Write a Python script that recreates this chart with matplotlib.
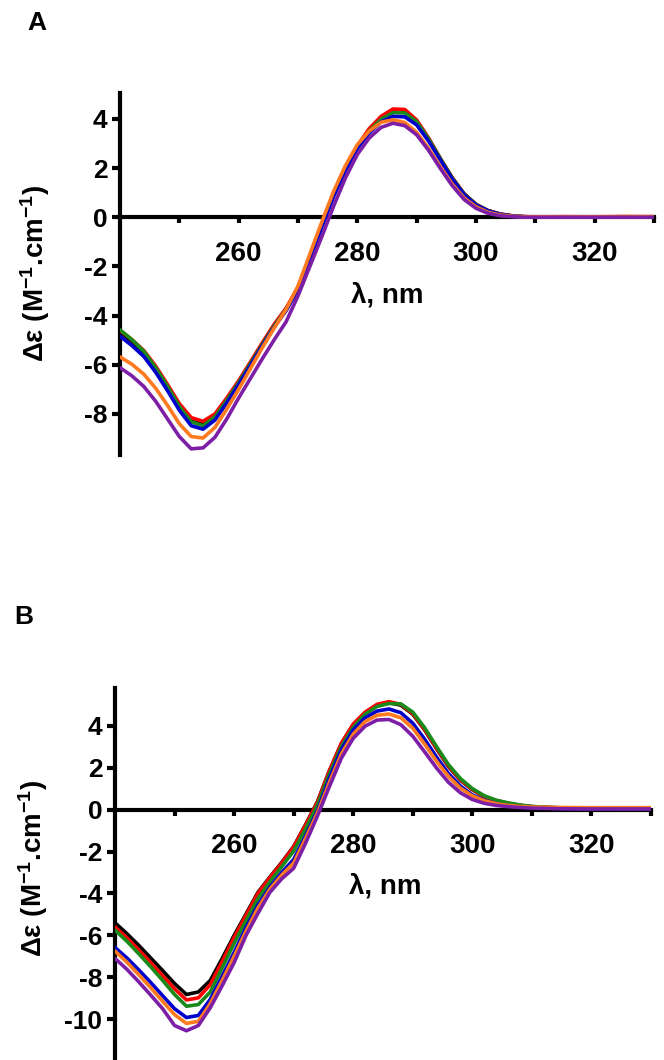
import matplotlib
matplotlib.use('Agg')
import matplotlib.pyplot as plt

plt.rcParams['font.family'] = ['Liberation Sans', 'DejaVu Sans']
plt.rcParams['font.weight'] = 'bold'
plt.rcParams['axes.unicode_minus'] = False
plt.rcParams['mathtext.fontset'] = 'custom'
plt.rcParams['mathtext.rm'] = 'Liberation Sans:bold'
plt.rcParams['mathtext.it'] = 'Liberation Sans:bold'
plt.rcParams['mathtext.bf'] = 'Liberation Sans:bold'

# wavelength grid (nm)
wl = [240, 242, 244, 246, 248, 250, 252,
      254, 256, 258, 260, 262, 264, 266, 268, 270, 272, 274, 276, 278, 280,
      282, 284, 286, 288, 290, 292, 294, 296, 298, 300, 302, 304, 306, 308, 310,
      315, 320, 325, 330]

# panel A
a_black = [-4.66, -5.05, -5.5, -6.15, -6.9, -7.7, -8.3,
           -8.42, -8.08, -7.42, -6.7, -5.93, -5.15, -4.4, -3.72, -2.9, -1.65, -0.35, 0.9, 1.95, 2.85,
           3.55, 4.05, 4.33, 4.3, 3.9, 3.2, 2.38, 1.6, 0.95, 0.52, 0.27, 0.13, 0.06, 0.02, 0.01,
           0, 0, 0, 0]
a_red = [-4.6, -4.98, -5.42, -6.05, -6.8, -7.58, -8.15,
         -8.3, -8.0, -7.35, -6.65, -5.88, -5.1, -4.35, -3.7, -2.85, -1.6, -0.3, 0.95, 2.0, 2.9,
         3.6, 4.1, 4.4, 4.38, 3.95, 3.22, 2.38, 1.6, 0.95, 0.52, 0.27, 0.13, 0.06, 0.02, 0.01,
         0.02, 0.01, 0.02, 0.01]
a_green = [-4.58, -4.98, -5.45, -6.12, -6.88, -7.7, -8.32,
           -8.48, -8.12, -7.45, -6.72, -5.95, -5.17, -4.42, -3.75, -2.92, -1.67, -0.37, 0.88, 1.93, 2.82,
           3.5, 3.98, 4.25, 4.24, 3.88, 3.18, 2.37, 1.58, 0.94, 0.51, 0.26, 0.12, 0.05, 0.02, 0.01,
           0, 0, 0, 0]
a_blue = [-4.84, -5.22, -5.66, -6.3, -7.05, -7.85, -8.48,
          -8.62, -8.25, -7.55, -6.8, -6.02, -5.22, -4.47, -3.8, -2.95, -1.7, -0.4, 0.85, 1.9, 2.8,
          3.42, 3.88, 4.1, 4.08, 3.75, 3.1, 2.32, 1.55, 0.92, 0.5, 0.26, 0.12, 0.05, 0.02, 0.01,
          0, 0, 0, 0]
a_orange = [-5.68, -5.98, -6.38, -6.95, -7.65, -8.4, -8.92,
            -8.98, -8.55, -7.8, -7.0, -6.15, -5.3, -4.5, -3.75, -2.8, -1.5, -0.2, 1.05, 2.1, 2.95,
            3.5, 3.86, 3.96, 3.85, 3.45, 2.8, 2.05, 1.35, 0.78, 0.42, 0.2, 0.09, 0.04, 0.02, 0.02,
            0.02, 0.02, 0.03, 0.03]
a_purple = [-6.12, -6.45, -6.88, -7.48, -8.2, -8.92, -9.42,
            -9.38, -8.95, -8.2, -7.35, -6.55, -5.75, -4.98, -4.25, -3.2, -2.0, -0.8, 0.45, 1.6, 2.55,
            3.22, 3.65, 3.82, 3.72, 3.35, 2.72, 1.98, 1.28, 0.72, 0.36, 0.16, 0.06, 0.02, 0, 0,
            0, 0, 0, 0]

# panel B
b_black = [-5.4, -5.92, -6.48, -7.08, -7.68, -8.3, -8.82,
           -8.7, -8.15, -7.1, -6.0, -4.98, -3.95, -3.22, -2.52, -1.76, -0.72, 0.38, 1.85, 3.15, 4.05,
           4.62, 4.98, 5.1, 4.98, 4.55, 3.8, 2.9, 2.05, 1.4, 0.95, 0.62, 0.42, 0.3, 0.2, 0.14,
           0.07, 0.05, 0.05, 0.05]
b_red = [-5.6, -6.12, -6.7, -7.3, -7.92, -8.55, -9.08,
         -8.98, -8.35, -7.25, -6.1, -5.05, -4.0, -3.25, -2.55, -1.78, -0.75, 0.35, 1.85, 3.15, 4.08,
         4.65, 5.02, 5.15, 5.02, 4.58, 3.82, 2.92, 2.08, 1.42, 0.96, 0.63, 0.43, 0.3, 0.2, 0.14,
         0.07, 0.05, 0.05, 0.05]
b_green = [-5.75, -6.28, -6.88, -7.5, -8.15, -8.82, -9.38,
           -9.3, -8.7, -7.55, -6.38, -5.3, -4.25, -3.45, -2.72, -1.98, -0.92, 0.22, 1.7, 3.0, 3.92,
           4.55, 4.92, 5.06, 5.04, 4.65, 3.9, 3.0, 2.14, 1.48, 1.0, 0.66, 0.45, 0.32, 0.22, 0.15,
           0.08, 0.05, 0.04, 0.04]
b_blue = [-6.58, -7.08, -7.65, -8.25, -8.88, -9.5, -9.92,
          -9.82, -9.05, -7.95, -6.82, -5.62, -4.55, -3.7, -3.0, -2.38, -1.25, -0.05, 1.5, 2.85, 3.8,
          4.38, 4.7, 4.8, 4.62, 4.12, 3.35, 2.5, 1.72, 1.12, 0.7, 0.44, 0.28, 0.19, 0.13, 0.09,
          0.05, 0.04, 0.04, 0.04]
b_orange = [-6.75, -7.28, -7.88, -8.5, -9.15, -9.78, -10.2,
            -10.1, -9.25, -8.15, -7.0, -5.8, -4.7, -3.8, -3.12, -2.55, -1.38, -0.15, 1.3, 2.65, 3.6,
            4.2, 4.5, 4.56, 4.38, 3.88, 3.12, 2.3, 1.58, 1.02, 0.65, 0.42, 0.28, 0.2, 0.15, 0.12,
            0.1, 0.09, 0.09, 0.09]
b_purple = [-7.1, -7.62, -8.22, -8.85, -9.5, -10.3, -10.55,
            -10.3, -9.45, -8.4, -7.3, -6.0, -4.95, -3.95, -3.3, -2.8, -1.6, -0.3, 1.1, 2.45, 3.4,
            3.98, 4.27, 4.3, 4.05, 3.5, 2.75, 1.98, 1.3, 0.8, 0.48, 0.3, 0.2, 0.14, 0.1, 0.07,
            0.04, 0.03, 0.03, 0.03]

colors = ['#000000', '#ff0000', '#1a8a1a', '#0000cc', '#ff7a1f', '#7d1fa6']
xticks = [250, 260, 270, 280, 290, 300, 310, 320, 330]
xticklabels = ['', '260', '', '280', '', '300', '', '320', '']
a_yticks = [-8, -6, -4, -2, 0, 2, 4]
b_yticks = [-10, -8, -6, -4, -2, 0, 2, 4]

W, H = 664, 1060
fig = plt.figure(figsize=(W / 100, H / 100), dpi=100)


def panel(rect, series, yticks, ylim):
    ax = fig.add_axes(rect)
    for y, c in zip(series, colors):
        ax.plot(wl, y, color=c, lw=2.6, zorder=3,
                solid_joinstyle='round', solid_capstyle='round')
    ax.set_xlim(240, 330)
    ax.set_ylim(ylim)
    ax.spines['top'].set_visible(False)
    ax.spines['right'].set_visible(False)
    ax.spines['bottom'].set_position(('data', 0))
    ax.spines['left'].set_linewidth(3)
    ax.spines['bottom'].set_linewidth(3)
    ax.set_xticks(xticks)
    ax.set_xticklabels(xticklabels)
    ax.set_yticks(yticks)
    ax.tick_params(axis='x', direction='out', length=4, width=3, labelsize=20, pad=13)
    ax.tick_params(axis='y', direction='out', length=6, width=3, labelsize=19, pad=3)
    return ax


# pixel boxes -> figure fractions
axA = panel([120 / W, 1 - 455 / H, 534 / W, 362 / H],
            [a_black, a_red, a_green, a_blue, a_orange, a_purple], a_yticks, (-9.67, 5.05))
axB = panel([115 / W, 1 - 1058 / H, 536 / W, 370 / H],
            [b_black, b_red, b_green, b_blue, b_orange, b_purple], b_yticks, (-11.85, 5.8))

ylab = 'Δε (M$^{-1}$.cm$^{-1}$)'
fig.text(35 / W, 1 - 273 / H, ylab, rotation=90, ha='center', va='center', fontsize=20)
fig.text(33 / W, 1 - 868 / H, ylab, rotation=90, ha='center', va='center', fontsize=20)
fig.text(387 / W, 1 - 296 / H, 'λ, nm', ha='center', va='center', fontsize=20)
fig.text(385 / W, 1 - 887 / H, 'λ, nm', ha='center', va='center', fontsize=20)
fig.text(37 / W, 1 - 23 / H, 'A', ha='center', va='center', fontsize=19)
fig.text(24 / W, 1 - 617 / H, 'B', ha='center', va='center', fontsize=19)

fig.savefig('out.png', dpi=100)
